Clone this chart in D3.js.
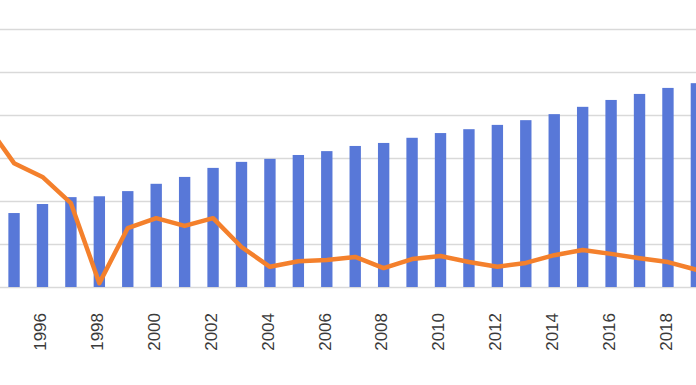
<!DOCTYPE html>
<html>
<head>
<meta charset="utf-8">
<script src="https://cdn.jsdelivr.net/npm/d3@7"></script>
<style>
  html, body { margin: 0; padding: 0; background: #fff; }
  svg { display: block; }
  .grid line { stroke: #d9d9d9; stroke-width: 1.5; }
  .grid path { display: none; }
  .x-axis path, .x-axis line { display: none; }
  .x-axis text { font-family: "Liberation Sans", Arial, sans-serif; font-size: 17px; fill: #3a3a3a; }
</style>
</head>
<body>
<svg id="chart"></svg>
<script>
// --- data (1994 bar is outside the crop) ---
const years = d3.range(1994, 2020).map(String);
const barValues = [null, 17.2, 19.3, 20.9, 21.1, 22.3, 24.0, 25.6, 27.7, 29.1, 29.8, 30.7,
  31.6, 32.8, 33.5, 34.7, 35.8, 36.7, 37.7, 38.8, 40.2, 41.9, 43.5, 44.9, 46.3, 47.4];
const lineValues = [38.1, 28.8, 25.6, 19.5, 0.9, 13.7, 16.0, 14.2, 16.0, 9.3, 4.7, 6.0,
  6.3, 7.0, 4.4, 6.5, 7.2, 5.8, 4.7, 5.6, 7.4, 8.6, 7.7, 6.7, 5.8, 4.0];
const yTicks = [0, 10, 20, 30, 40, 50, 60];
const labelYears = d3.range(1996, 2020, 2).map(String);

const width = 696;
const height = 385;

const svg = d3.select("#chart").attr("width", width).attr("height", height);

// chart is cropped on the left and right, so the range runs past the edges
const x = d3.scaleBand()
  .domain(years)
  .range([-28.6, 710.6])
  .paddingInner(0.6)
  .paddingOuter(0.3);

const y = d3.scaleLinear().domain([0, 60]).range([287, 29]);

// gridlines
svg.append("g")
  .attr("class", "grid")
  .call(d3.axisLeft(y).tickValues(yTicks).tickSize(-width).tickFormat(""));

// bars
svg.append("g")
  .selectAll("rect")
  .data(years.map((d, i) => ({ year: d, value: barValues[i] })).filter((d) => d.value != null))
  .join("rect")
  .attr("x", (d) => x(d.year))
  .attr("width", x.bandwidth())
  .attr("y", (d) => y(d.value))
  .attr("height", (d) => y(0) - y(d.value))
  .attr("fill", "#5878d8");

// line
const line = d3.line()
  .x((d, i) => x(years[i]) + x.bandwidth() / 2)
  .y((d) => y(d));

svg.append("path")
  .datum(lineValues)
  .attr("d", line)
  .attr("fill", "none")
  .attr("stroke", "#f4802c")
  .attr("stroke-width", 4.5)
  .attr("stroke-linejoin", "round")
  .attr("stroke-linecap", "round");

// x axis labels, rotated
const xAxis = svg.append("g")
  .attr("class", "x-axis")
  .attr("transform", "translate(0,287)")
  .call(d3.axisBottom(x).tickValues(labelYears).tickSize(0));

xAxis.selectAll("text")
  .attr("transform", "rotate(-90)")
  .attr("x", -26)
  .attr("y", 0)
  .attr("dy", "0.22em")
  .style("text-anchor", "end");
</script>
</body>
</html>
